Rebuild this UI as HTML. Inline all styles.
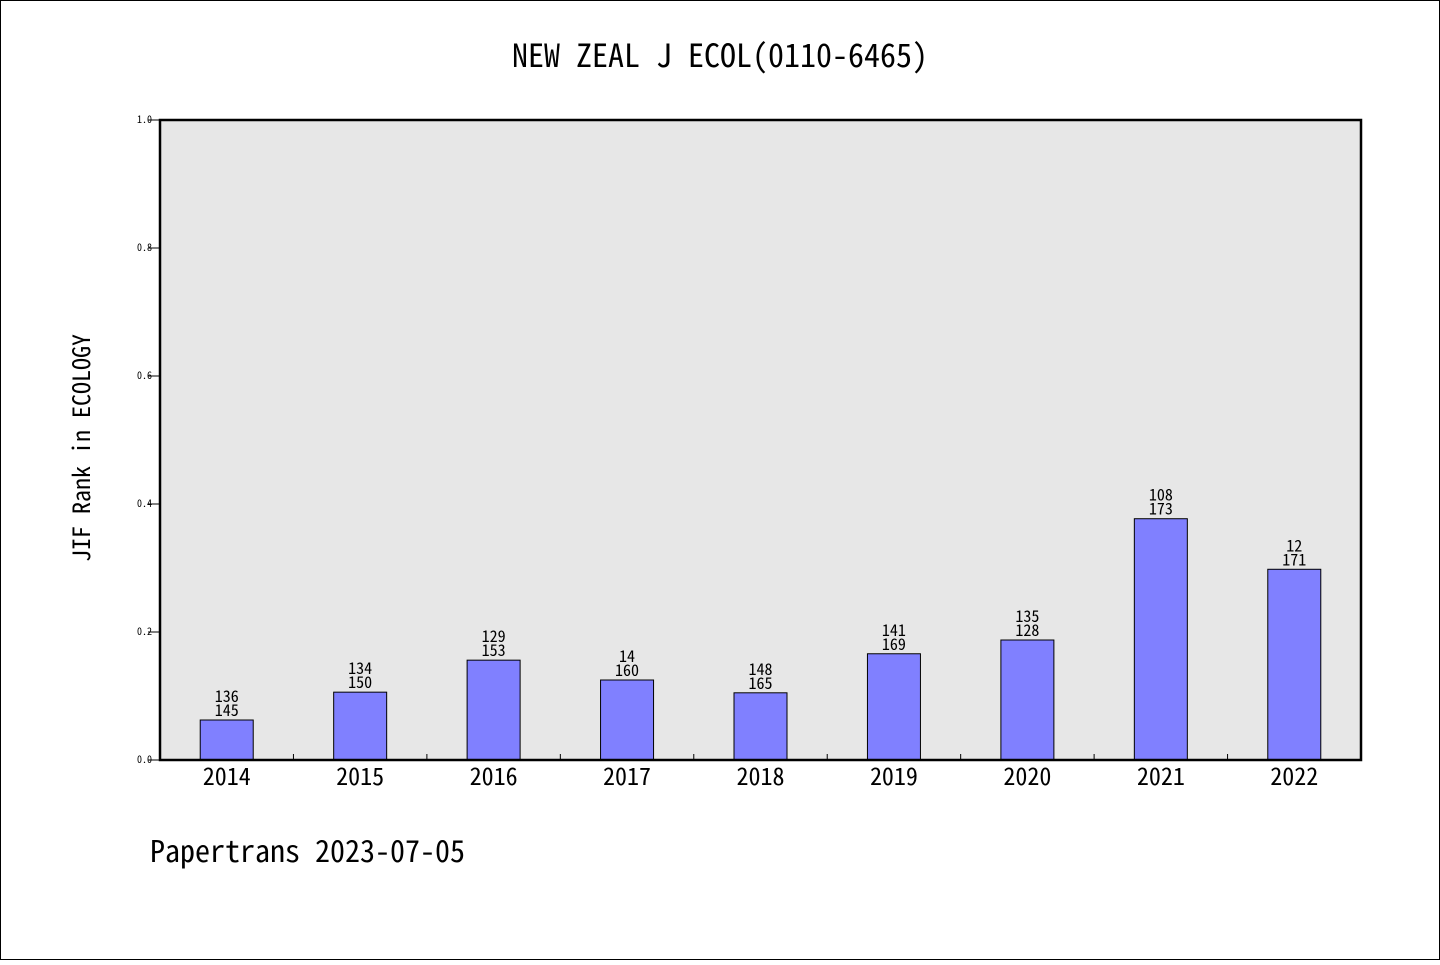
<!DOCTYPE html>
<html><head><meta charset="utf-8"><style>
body{margin:0;background:#fff}
svg text{font-family:"Noto Sans Mono CJK SC","WenQuanYi Zen Hei Mono","Liberation Mono",monospace}
</style></head><body>
<svg id="c" width="1440" height="960" xmlns="http://www.w3.org/2000/svg">
<rect x="0.5" y="0.5" width="1439" height="959" fill="#fff" stroke="#000"/>
<text x="720" y="67" font-size="32" text-anchor="middle">NEW ZEAL J ECOL(0110-6465)</text>
<rect x="160" y="120" width="1201" height="640" fill="#e7e7e7"/>
<g id="marks"></g>
<rect x="160" y="120" width="1201" height="640" fill="none" stroke="#000" stroke-width="2.5"/>
<text transform="translate(90,448) rotate(-90)" font-size="24" text-anchor="middle">JIF Rank in ECOLOGY</text>
<text x="150" y="862" font-size="30">Papertrans 2023-07-05</text>
</svg>
<script>
const categories=["2014","2015","2016","2017","2018","2019","2020","2021","2022"];
const values=[0.0625,0.106,0.156,0.125,0.105,0.166,0.1875,0.377,0.298];
const rankLabels=["136","134","129","14","148","141","135","108","12"];
const totalLabels=["145","150","153","160","165","169","128","173","171"];
const yTicks=[0,0.2,0.4,0.6,0.8,1.0];
const X0=160,X1=1361,Y0=760,Y1=120,NS="http://www.w3.org/2000/svg";
const step=(X1-X0)/categories.length;
const xC=i=>X0+step*(i+0.5);
const y=v=>Y0-(Y0-Y1)*v;
const g=document.getElementById('marks');
function mk(t,a,txt){const e=document.createElementNS(NS,t);for(const k in a)e.setAttribute(k,a[k]);if(txt!==undefined)e.textContent=txt;g.appendChild(e);return e;}
yTicks.forEach(v=>{
 const l=mk('line',{x1:148,x2:160,y1:y(v),y2:y(v),stroke:'#000'});
 
 
 const t=mk('text',{x:152,y:y(v)+3,'font-size':10,'text-anchor':'end'},v.toFixed(1));
 
 
});
for(let i=1;i<categories.length;i++){
 const l=mk('line',{x1:X0+step*i,x2:X0+step*i,y1:Y0,y2:Y0-6,stroke:'#000'});
 
 
}
categories.forEach((c,i)=>{
 const cx=xC(i),bw=53;
 const r=mk('rect',{x:cx-bw/2,y:y(values[i]),width:bw,height:Y0-y(values[i]),fill:'#8080ff',stroke:'#000','stroke-width':1});
 
 
 const a=mk('text',{x:cx,y:y(values[i])-18,'font-size':16,'text-anchor':'middle'},rankLabels[i]);
 
 
 const b=mk('text',{x:cx,y:y(values[i])-4,'font-size':16,'text-anchor':'middle'},totalLabels[i]);
 
 
 const t=mk('text',{x:cx,y:785,'font-size':24,'text-anchor':'middle'},c);
 
 
});
</script>
</body></html>
